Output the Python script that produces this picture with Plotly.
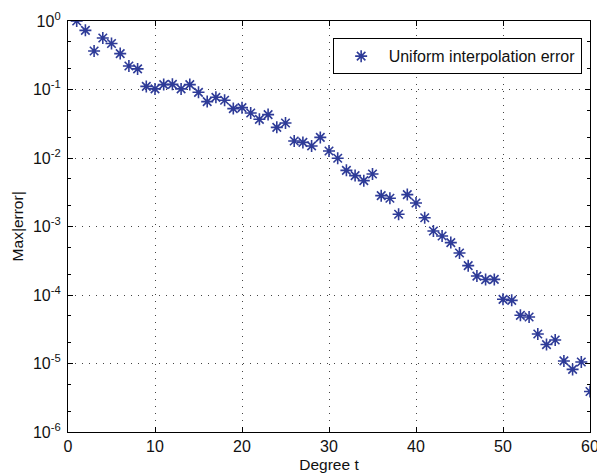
import plotly.graph_objects as go

# Max interpolation error for each polynomial degree t (uniform nodes)
degree = list(range(1, 61))
max_error = [
    1.0, 0.73, 0.365, 0.565, 0.47, 0.334, 0.22, 0.20, 0.111, 0.102,
    0.118, 0.119, 0.102, 0.118, 0.091, 0.0666, 0.0769, 0.0696, 0.0526, 0.0543,
    0.0454, 0.0367, 0.043, 0.028, 0.0324, 0.0177, 0.0169, 0.0150, 0.0200, 0.01265,
    0.0099, 0.0066, 0.00553, 0.00467, 0.00583, 0.00282, 0.00258, 0.00151, 0.00292, 0.0022,
    0.00134, 0.00086, 0.000726, 0.000582, 0.00041, 0.000268, 0.000189, 0.000168, 0.000169, 8.65e-5,
    8.36e-5, 5.05e-5, 4.77e-5, 2.7e-5, 1.89e-5, 2.2e-5, 1.09e-5, 8.2e-6, 1.05e-5, 3.9e-6,
]

x_ticks = [0, 10, 20, 30, 40, 50, 60]
y_tick_vals = [1e0, 1e-1, 1e-2, 1e-3, 1e-4, 1e-5, 1e-6]
y_tick_text = ["10<sup>0</sup>", "10<sup>-1</sup>", "10<sup>-2</sup>", "10<sup>-3</sup>",
               "10<sup>-4</sup>", "10<sup>-5</sup>", "10<sup>-6</sup>"]

marker_color = "#2E3B98"
family = "Liberation Sans, Arial, sans-serif"
font = dict(family=family, size=15.5, color="#111")
tick_font = dict(family=family, size=16, color="#111")

fig = go.Figure()
fig.add_trace(go.Scatter(
    x=degree, y=max_error, mode="markers",
    name="Uniform interpolation error",
    marker=dict(symbol="asterisk-open", size=10, color=marker_color,
                line=dict(color=marker_color, width=1.6)),
))

axis_common = dict(
    showline=True, linecolor="black", linewidth=1.3, mirror="allticks",
    ticks="inside", ticklen=5, tickcolor="black", tickwidth=1,
    showgrid=True, gridcolor="#444", gridwidth=1, griddash="1px,6px",
    zeroline=False, tickfont=tick_font, ticklabeloverflow="allow",
    automargin=False,
)

fig.update_xaxes(
    range=[0, 60], tickvals=x_ticks,
    title=dict(text="Degree t", font=font),
    **axis_common,
)
fig.update_yaxes(
    type="log", range=[-6, 0], tickvals=y_tick_vals, ticktext=y_tick_text,
    minor=dict(ticks="inside", ticklen=3, tickcolor="black", showgrid=False),
    ticklabelstandoff=3,
    **axis_common,
)

# y-axis title placed as a rotated annotation left of the tick labels
fig.add_annotation(
    text="Max|error|", textangle=-90, font=font, showarrow=False,
    xref="paper", yref="paper", x=-0.096, y=0.5,
    xanchor="center", yanchor="middle",
)

fig.update_layout(
    width=597, height=473,
    margin=dict(l=68, r=7, t=21, b=41),
    plot_bgcolor="white", paper_bgcolor="white",
    font=font,
    showlegend=True,
    legend=dict(
        x=0.984, y=0.958, xanchor="right", yanchor="top",
        bgcolor="white", bordercolor="black", borderwidth=1,
        font=dict(family=family, size=16, color="#111"), itemwidth=45,
        tracegroupgap=0,
    ),
)

fig.write_html("out.html")
